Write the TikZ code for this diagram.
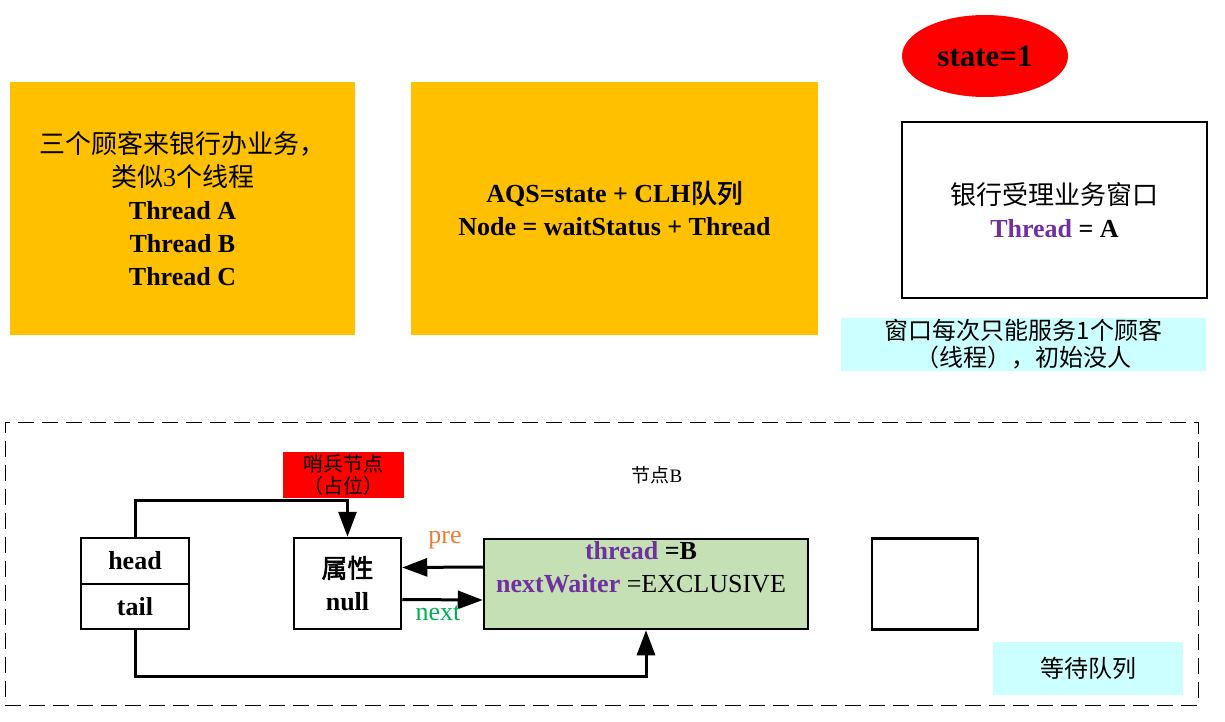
\documentclass[tikz,border=0pt]{standalone}
\usepackage{fontspec}
\setmainfont{Liberation Serif}
\newfontfamily\cjk[AutoFakeBold=2]{Noto Sans CJK SC}
\usetikzlibrary{arrows.meta,shapes.geometric}
\definecolor{panelorange}{HTML}{FFC000}
\definecolor{notecyan}{HTML}{CCFFFF}
\definecolor{nodegreen}{HTML}{C5E0B4}
\definecolor{fieldpurple}{HTML}{7030A0}
\definecolor{preorange}{HTML}{ED7D31}
\definecolor{nextgreen}{HTML}{00B050}
\begin{document}
\begin{tikzpicture}[x=1pt,y=-1pt,
	every node/.style={inner sep=0pt,align=center,font=\fontsize{26}{33}\selectfont},
	panel/.style={fill=panelorange,minimum height=253pt},
	note/.style={fill=notecyan},
	cell/.style={draw,line width=2.5pt,fill=white},
	link/.style={line width=3pt,-{Triangle[length=25pt,width=18pt]}}]
	\useasboundingbox (0,0) rectangle (1225,722);
	% top row
	\node[panel,minimum width=345pt] (customers) at (182.5,208.5){{\cjk 三个顾客来银行办业务，}\\{\cjk 类似}3{\cjk 个线程}\\\textbf{Thread A}\\\textbf{Thread B}\\\textbf{Thread C}};
	\node[panel,minimum width=407pt] (aqs) at (614.5,208.5){\textbf{AQS=state + CLH{\cjk 队列}}\\\textbf{Node = waitStatus + Thread}};
	\node[ellipse,fill=red,minimum width=166pt,minimum height=82pt,font=\fontsize{31}{36}\selectfont\bfseries] (state) at (985,56){state=1};
	\node[cell,minimum width=305pt,minimum height=176pt] (window) at (1054.5,210){{\cjk 银行受理业务窗口}\\\textbf{{\color{fieldpurple}Thread} = A}};
	\node[note,minimum width=365pt,minimum height=53pt,font=\fontsize{24}{27}\selectfont\cjk] (windownote) at (1023.5,344.5){窗口每次只能服务1个顾客\\（线程），初始没人};
	% queue
	\node[draw,line width=1pt,dash pattern=on 16pt off 8pt,minimum width=1193pt,minimum height=283pt] (queue) at (601.5,563.5){};
	\node[fill=red,minimum width=121pt,minimum height=46pt,font=\fontsize{20}{22}\selectfont\cjk] (sentinel) at (343.5,475){哨兵节点\\（占位）};
	\node[font=\fontsize{19}{22}\selectfont] (nodeBlabel) at (657,475){{\cjk 节点}B};
	\node[cell,minimum width=108pt,minimum height=46pt] (head) at (135,561){\textbf{head}};
	\node[cell,minimum width=108pt,minimum height=45pt] (tail) at (135,606.5){\textbf{tail}};
	\node[cell,minimum width=107pt,minimum height=91pt] (attr) at (347.5,583.5){\textbf{{\cjk 属性}}\\\textbf{null}};
	\node[cell,fill=nodegreen,minimum width=324pt,minimum height=90pt] (nodeB) at (646,584){};
	\node (nodeBtext) at (641,567){\textbf{{\color{fieldpurple}thread} =B}\\\textbf{\color{fieldpurple}nextWaiter} =EXCLUSIVE};
	\node[cell,minimum width=106pt,minimum height=91pt] (empty) at (925,584){};
	\node[note,minimum width=190pt,minimum height=53pt,font=\fontsize{24}{27}\selectfont\cjk] (waitlabel) at (1088,668.5){等待队列};
	\draw[link] (head.north) -- ++(0,-36) -| (attr.north);
	\draw[link] (tail.south) -- ++(0,46) -| (nodeB.south);
	\draw[link] ([yshift=17pt]nodeB.west) -- ([yshift=16pt]attr.east);
	\draw[link] ([yshift=-16pt]attr.east) -- ([yshift=-16pt]nodeB.west);
	\node[text=preorange] (prelabel) at (445,540){pre};
	\node[text=nextgreen] (nextlabel) at (438,613){next};
\end{tikzpicture}
\end{document}
